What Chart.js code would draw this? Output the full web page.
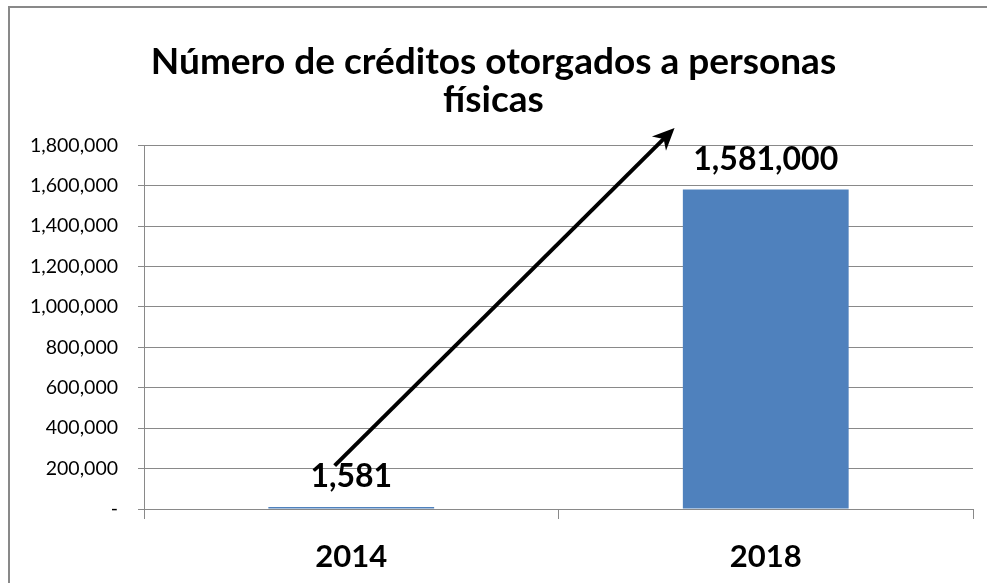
<!DOCTYPE html>
<html>
<head>
<meta charset="utf-8">
<script src="https://cdn.jsdelivr.net/npm/chart.js@4.4.0/dist/chart.umd.min.js"></script>
<style>
  html, body { margin: 0; padding: 0; background: #fff; }
  canvas { display: block; }
</style>
</head>
<body>
<canvas id="creditChart" width="987" height="583"></canvas>
<script>
// Chart data
const years = ['2014', '2018'];
const credits = [1581, 1581000];
const yTicks = [0, 200000, 400000, 600000, 800000, 1000000, 1200000, 1400000, 1600000, 1800000];
const titleLines = ['Número de créditos otorgados a personas', 'físicas'];
// trend arrow, in data units (category index, value)
const arrowFrom = [-0.04, 215000];
const arrowTo = [0.78, 1885000];

const FONT = 'Lato, "Open Sans", sans-serif';

// Outer border (top + left visible in the reference)
const frameBorder = {
    id: 'frameBorder',
    beforeDraw(chart) {
        const ctx = chart.ctx;
        ctx.save();
        ctx.strokeStyle = '#898989';
        ctx.lineWidth = 2;
        ctx.beginPath();
        ctx.moveTo(9, chart.height);
        ctx.lineTo(9, 7);
        ctx.lineTo(chart.width, 7);
        ctx.stroke();
        ctx.restore();
    }
};

// Bold value labels above each bar
const valueLabels = {
    id: 'valueLabels',
    afterDatasetsDraw(chart) {
        const ctx = chart.ctx;
        const meta = chart.getDatasetMeta(0);
        ctx.save();
        ctx.font = 'bold 32px ' + FONT;
        ctx.fillStyle = '#000';
        ctx.textAlign = 'center';
        ctx.textBaseline = 'middle';
        meta.data.forEach((bar, i) => {
            ctx.fillText(credits[i].toLocaleString('en-US'), bar.x, bar.y - 30);
        });
        ctx.restore();
    }
};

// Growth arrow
const trendArrow = {
    id: 'trendArrow',
    afterDraw(chart) {
        const xs = chart.scales.x, ys = chart.scales.y;
        const step = xs.getPixelForValue(1) - xs.getPixelForValue(0);
        const x0 = xs.getPixelForValue(0) + arrowFrom[0] * step;
        const y0 = ys.getPixelForValue(arrowFrom[1]);
        const x1 = xs.getPixelForValue(0) + arrowTo[0] * step;
        const y1 = ys.getPixelForValue(arrowTo[1]);
        const ang = Math.atan2(y1 - y0, x1 - x0);
        const headLen = 22, headW = 10;
        const ctx = chart.ctx;
        ctx.save();
        ctx.strokeStyle = '#000';
        ctx.fillStyle = '#000';
        ctx.lineWidth = 4;
        ctx.beginPath();
        ctx.moveTo(x0, y0);
        ctx.lineTo(x1 - Math.cos(ang) * headLen * 0.6, y1 - Math.sin(ang) * headLen * 0.6);
        ctx.stroke();
        ctx.translate(x1, y1);
        ctx.rotate(ang);
        ctx.beginPath();
        ctx.moveTo(0, 0);
        ctx.lineTo(-headLen, -headW);
        ctx.lineTo(-headLen * 0.7, 0);
        ctx.lineTo(-headLen, headW);
        ctx.closePath();
        ctx.fill();
        ctx.restore();
    }
};

new Chart(document.getElementById('creditChart'), {
    type: 'bar',
    data: {
        labels: years,
        datasets: [{
            data: credits,
            backgroundColor: '#4F81BD',
            borderWidth: 0,
            minBarLength: 2,
            barPercentage: 0.4,
            categoryPercentage: 1.0
        }]
    },
    options: {
        responsive: false,
        animation: false,
        layout: { padding: { left: 14, right: 14, top: 0, bottom: 0 } },
        plugins: {
            legend: { display: false },
            tooltip: { enabled: false },
            title: {
                display: true,
                text: titleLines,
                color: '#000',
                font: { family: FONT, size: 37, weight: 'bold', lineHeight: 1.03 },
                padding: { top: 43, bottom: 26 }
            }
        },
        scales: {
            x: {
                grid: {
                    drawOnChartArea: false,
                    drawTicks: true,
                    tickLength: 10,
                    color: '#898989'
                },
                border: { color: '#898989', width: 1 },
                ticks: {
                    color: '#000',
                    font: { family: FONT, size: 31, weight: 'bold' },
                    padding: 19
                },
                afterFit(scale) { scale.height = 74; }
            },
            y: {
                min: 0,
                max: 1800000,
                afterBuildTicks(scale) {
                    scale.ticks = yTicks.map(v => ({ value: v }));
                },
                grid: {
                    color: '#898989',
                    tickLength: 6
                },
                border: { color: '#898989', width: 1 },
                ticks: {
                    color: '#000',
                    font: { family: FONT, size: 19.5 },
                    padding: 20,
                    callback: v => v === 0 ? '-' : v.toLocaleString('en-US')
                },
                afterFit(scale) { scale.width = 130; }
            }
        }
    },
    plugins: [frameBorder, valueLabels, trendArrow]
});
</script>
</body>
</html>
